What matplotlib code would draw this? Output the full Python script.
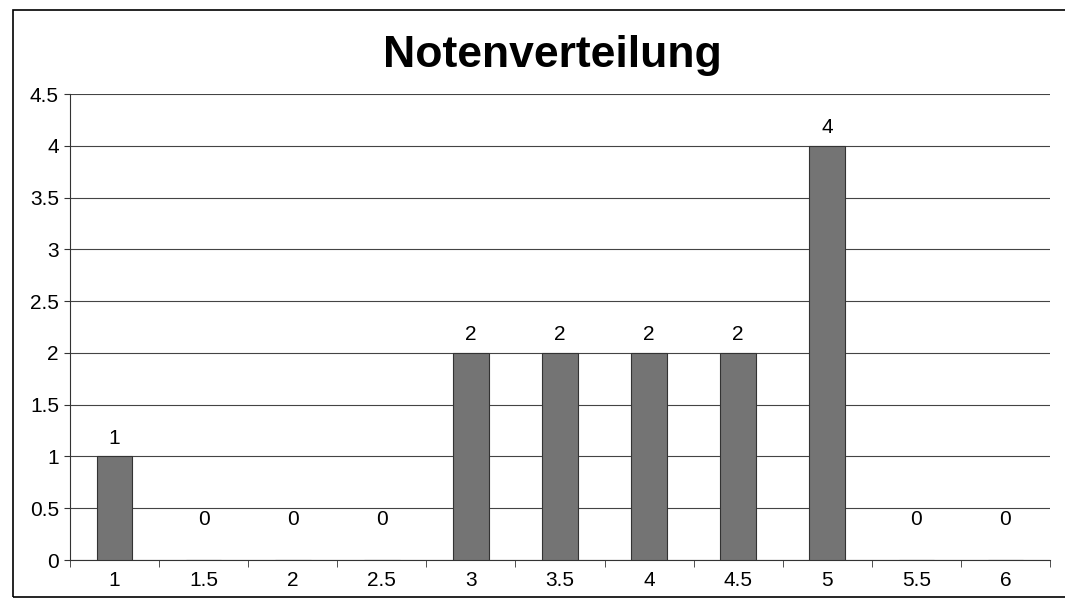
import matplotlib
matplotlib.use('Agg')
import matplotlib.pyplot as plt
import numpy as np
from matplotlib.patches import Rectangle

plt.rcParams['font.family'] = ['Liberation Sans', 'DejaVu Sans']

# grades and how many students got them
grades = ['1', '1.5', '2', '2.5', '3', '3.5', '4', '4.5', '5', '5.5', '6']
counts = [1, 0, 0, 0, 2, 2, 2, 2, 4, 0, 0]

fig = plt.figure(figsize=[10.65, 6.04], dpi=100)
fig.patches.append(Rectangle((13 / 1065, 7 / 604), 1.0, 587 / 604, transform=fig.transFigure,
                             fill=False, edgecolor='black', linewidth=1.2))

ax = fig.add_axes([70 / 1065, 44 / 604, 980 / 1065, 466 / 604])
x = np.arange(len(grades))
bars = ax.bar(x, counts, width=0.4, color='#747474', edgecolor='#333333', linewidth=0.8, zorder=3)

# value labels above bars (zeros sit a bit higher, like in the original)
for xi, c in zip(x, counts):
    off = 13 if c > 0 else 29
    ax.annotate(str(c), (xi, c), xytext=(0, off), textcoords='offset points',
                ha='center', va='center', fontsize=15)

ax.set_xlim(-0.5, len(grades) - 0.5)
ax.set_ylim(0, 4.5)
ax.set_yticks(np.arange(0, 4.6, 0.5))
ax.set_yticklabels(['0', '0.5', '1', '1.5', '2', '2.5', '3', '3.5', '4', '4.5'])
ax.set_xticks(x)
ax.set_xticklabels(grades)
ax.set_xticks(np.arange(-0.5, len(grades), 1), minor=True)
ax.tick_params(axis='x', which='major', length=0, pad=8, labelsize=15)
ax.tick_params(axis='x', which='minor', length=5, direction='out', color='#333333')
ax.tick_params(axis='y', length=4, color='#333333', labelsize=15, pad=4)
ax.grid(axis='y', color='#444444', linewidth=0.8, zorder=0)

for side in ['top', 'right']:
    ax.spines[side].set_visible(False)
ax.spines['left'].set_color('#333333')
ax.spines['bottom'].set_color('#333333')

fig.text(552 / 1065, 1 - 56 / 604, 'Notenverteilung', ha='center', va='center',
         fontsize=32, fontweight='bold')

fig.savefig('out.png', dpi=100)
